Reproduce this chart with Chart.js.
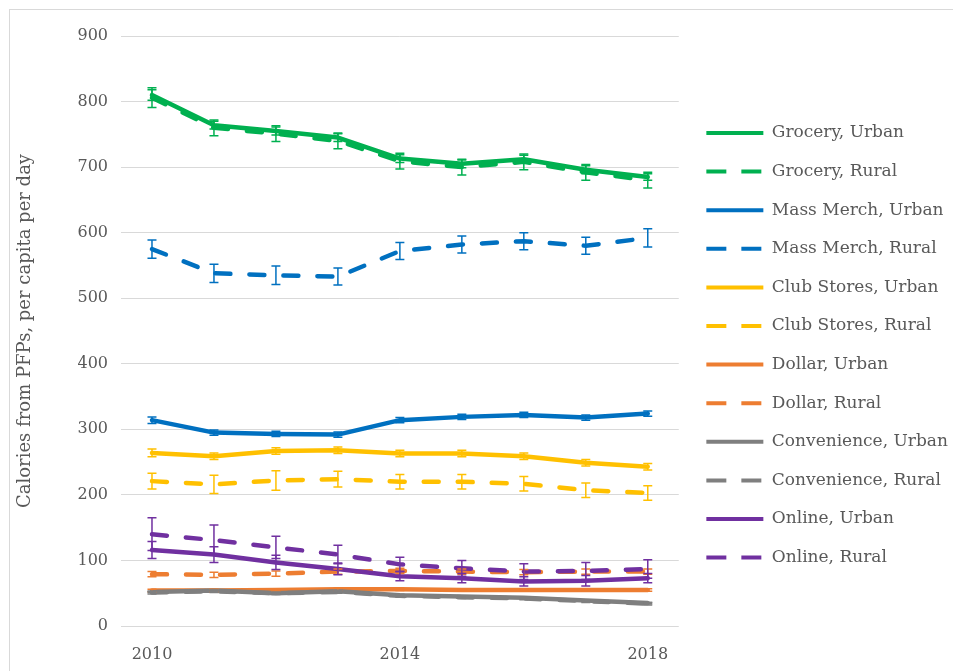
<!DOCTYPE html>
<html>
<head>
<meta charset="utf-8">
<script src="https://cdn.jsdelivr.net/npm/chart.js@4.4.1/dist/chart.umd.min.js"></script>
<style>
  html, body { margin: 0; padding: 0; background: #fff; }
  #wrap { position: relative; width: 953px; height: 671px; }
  #frame { position: absolute; left: 9px; top: 9px; right: -2px; bottom: -2px; border: 1px solid #d9d9d9; pointer-events: none; }
</style>
</head>
<body>
<div id="wrap">
  <canvas id="pfpChart" width="953" height="671"></canvas>
  <div id="frame"></div>
</div>
<script>
/* ----- data ----- */
const years = ["2010", "2011", "2012", "2013", "2014", "2015", "2016", "2017", "2018"];
const yearTicks = ["2010", "2014", "2018"];

const groceryUrban = [810, 764, 755, 745, 713, 705, 712, 696, 685];
const groceryRural = [806, 760, 751, 740, 709, 700, 708, 692, 680];
const massUrban = [314, 295, 293, 292, 314, 319, 322, 318, 324];
const massRural = [575, 538, 535, 533, 572, 582, 587, 580, 592];
const clubUrban = [264, 259, 267, 268, 263, 263, 259, 249, 243];
const clubRural = [221, 216, 222, 224, 220, 220, 217, 207, 203];
const dollarUrban = [54, 54, 55, 56, 56, 55, 55, 55, 55];
const dollarRural = [79, 78, 80, 83, 84, 83, 82, 83, 83];
const convUrban = [52, 54, 50, 53, 47, 45, 43, 39, 35];
const convRural = [51, 53, 50, 52, 46, 44, 42, 38, 34];
const onlineUrban = [116, 109, 97, 87, 76, 73, 68, 69, 73];
const onlineRural = [140, 131, 120, 109, 94, 88, 83, 84, 87];

/* ----- error bars (+/-) ----- */
const groceryUrbanErr = [8, 6, 6, 6, 6, 6, 6, 6, 5];
const groceryRuralErr = [15, 12, 12, 12, 12, 12, 12, 12, 12];
const massUrbanErr = [5, 4, 4, 4, 4, 4, 4, 4, 4];
const massRuralErr = [14, 14, 14, 13, 13, 13, 13, 13, 14];
const clubUrbanErr = [6, 5, 5, 5, 5, 5, 5, 5, 5];
const clubRuralErr = [12, 14, 15, 12, 11, 11, 11, 11, 11];
const dollarUrbanErr = [2, 2, 2, 2, 2, 2, 2, 2, 2];
const dollarRuralErr = [4, 4, 4, 4, 4, 4, 4, 4, 4];
const convUrbanErr = [1, 1, 1, 1, 1, 1, 1, 1, 1];
const convRuralErr = [2, 2, 2, 2, 2, 2, 2, 2, 2];
const onlineUrbanErr = [13, 12, 11, 9, 7, 7, 7, 8, 7];
const onlineRuralErr = [25, 23, 17, 14, 11, 12, 12, 13, 14];

const yTicks = [0, 100, 200, 300, 400, 500, 600, 700, 800, 900];

/* ----- style ----- */
const GREEN = "#00b050", BLUE = "#0070c0", YELLOW = "#ffc000";
const ORANGE = "#ed7d31", GRAY = "#7f7f7f", PURPLE = "#7030a0";
const FONT = "'DejaVu Serif', serif";
const DASH = [15, 19];
const LEGEND_DASH = [20, 15];

function serie(label, data, err, color, dashed) {
  return {
    label: label,
    data: data,
    errors: err,
    dashed: dashed,
    borderColor: color,
    backgroundColor: color,
    borderWidth: 4.5,
    borderDash: dashed ? DASH : [],
    borderCapStyle: "round",
    borderJoinStyle: "round",
    pointRadius: 0,
    pointHoverRadius: 0,
    tension: 0,
    fill: false,
  };
}

const series = [
  serie("Grocery, Urban", groceryUrban, groceryUrbanErr, GREEN, false),
  serie("Grocery, Rural", groceryRural, groceryRuralErr, GREEN, true),
  serie("Mass Merch, Urban", massUrban, massUrbanErr, BLUE, false),
  serie("Mass Merch, Rural", massRural, massRuralErr, BLUE, true),
  serie("Club Stores, Urban", clubUrban, clubUrbanErr, YELLOW, false),
  serie("Club Stores, Rural", clubRural, clubRuralErr, YELLOW, true),
  serie("Dollar, Urban", dollarUrban, dollarUrbanErr, ORANGE, false),
  serie("Dollar, Rural", dollarRural, dollarRuralErr, ORANGE, true),
  serie("Convenience, Urban", convUrban, convUrbanErr, GRAY, false),
  serie("Convenience, Rural", convRural, convRuralErr, GRAY, true),
  serie("Online, Urban", onlineUrban, onlineUrbanErr, PURPLE, false),
  serie("Online, Rural", onlineRural, onlineRuralErr, PURPLE, true),
];
// later series drawn on top, like the original
series.forEach((s, i) => (s.order = -i));

/* ----- error bar plugin ----- */
const errorBars = {
  id: "errorBars",
  afterDatasetsDraw(chart) {
    const ctx = chart.ctx;
    const y = chart.scales.y;
    chart.data.datasets.forEach((ds, di) => {
      const meta = chart.getDatasetMeta(di);
      if (!ds.errors) return;
      ctx.save();
      ctx.strokeStyle = ds.borderColor;
      ctx.lineWidth = 1.5;
      ctx.setLineDash([]);
      meta.data.forEach((pt, i) => {
        const top = y.getPixelForValue(ds.data[i] + ds.errors[i]);
        const bot = y.getPixelForValue(ds.data[i] - ds.errors[i]);
        ctx.beginPath();
        ctx.moveTo(pt.x, top);
        ctx.lineTo(pt.x, bot);
        ctx.moveTo(pt.x - 4.5, top);
        ctx.lineTo(pt.x + 4.5, top);
        ctx.moveTo(pt.x - 4.5, bot);
        ctx.lineTo(pt.x + 4.5, bot);
        ctx.stroke();
      });
      ctx.restore();
    });
  },
};

// legend sits a bit right of the plot and may use the full width up to the edge
const legendNudge = {
  id: "legendNudge",
  afterLayout(chart) {
    chart.legend.left = chart.chartArea.right + 6;
    chart.legend.right = chart.width;
    chart.legend.width = chart.legend.right - chart.legend.left;
  },
};

/* ----- chart ----- */
let pfpChart = new Chart("pfpChart", {
  type: "line",
  data: { labels: years, datasets: series },
  plugins: [errorBars, legendNudge],
  options: {
    responsive: false,
    animation: false,
    events: [],
    layout: { padding: { top: 36, right: 48, bottom: 0, left: 0 } },
    scales: {
      x: {
        offset: true,
        grid: { display: false, drawTicks: false },
        border: { display: false },
        ticks: {
          autoSkip: false,
          maxRotation: 0,
          padding: 19,
          color: "#595959",
          font: { family: FONT, size: 16 },
          callback: function (v, i) {
            const lab = years[i];
            return yearTicks.includes(lab) ? lab : "";
          },
        },
        afterFit: (s) => { s.height = 45; },
      },
      y: {
        min: yTicks[0],
        max: yTicks[yTicks.length - 1],
        afterBuildTicks: (s) => { s.ticks = yTicks.map((v) => ({ value: v })); },
        grid: { color: "#d9d9d9", lineWidth: 1, drawTicks: false },
        border: { display: false },
        ticks: {
          padding: 13,
          color: "#595959",
          font: { family: FONT, size: 16 },
        },
        title: {
          display: true,
          text: "Calories from PFPs, per capita per day",
          color: "#595959",
          font: { family: FONT, size: 18 },
          padding: { top: 15, bottom: 0 },
        },
        afterFit: (s) => { s.width = 121; },
      },
    },
    plugins: {
      tooltip: { enabled: false },
      legend: {
        position: "right",
        align: "start",
        title: { display: true, text: "", padding: { top: 46.5, bottom: 0 }, font: { family: FONT, size: 17 } },
        labels: {
          usePointStyle: true,
          pointStyle: "line",
          pointStyleWidth: 57,
          padding: 21.6,
          color: "#595959",
          font: { family: FONT, size: 17 },
          sort: (a, b) => a.datasetIndex - b.datasetIndex,
          generateLabels: (chart) =>
            Chart.defaults.plugins.legend.labels.generateLabels(chart).map((item) => {
              const ds = chart.data.datasets[item.datasetIndex];
              item.lineDash = ds.dashed ? LEGEND_DASH : [];
              item.lineWidth = 4;
              item.lineCap = "butt";
              item.strokeStyle = ds.borderColor;
              return item;
            }),
        },
      },
    },
  },
});
</script>
</body>
</html>
